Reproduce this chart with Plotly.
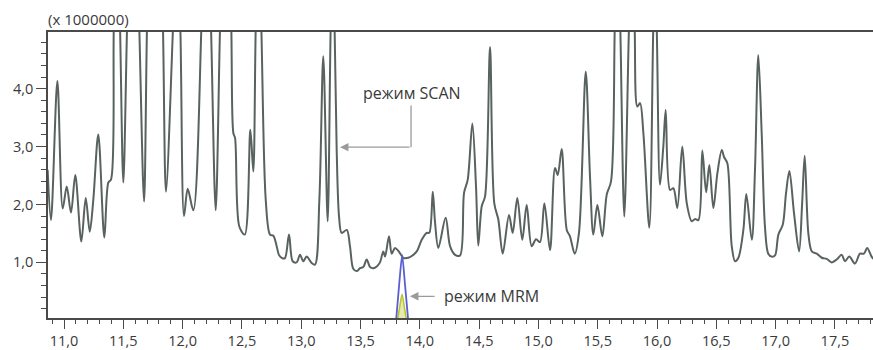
import plotly.graph_objects as go

# SCAN mode total ion chromatogram (time in min, signal x 1 000 000)
scan_time = [10.862, 10.890, 10.944, 10.989, 11.023, 11.059, 11.095, 11.146, 11.183, 11.217,
             11.247, 11.289, 11.340, 11.374, 11.396, 11.420, 11.446, 11.472, 11.500, 11.532,
             11.582, 11.634, 11.675, 11.700, 11.767, 11.834, 11.860, 11.920, 11.949, 11.980,
             12.012, 12.043, 12.090, 12.159, 12.198, 12.239, 12.279, 12.316, 12.362, 12.410,
             12.428, 12.442, 12.478, 12.524, 12.571, 12.596, 12.617, 12.640, 12.663, 12.701,
             12.737, 12.765, 12.793, 12.812, 12.835, 12.862, 12.897, 12.928, 12.961, 12.990,
             13.018, 13.046, 13.088, 13.116, 13.153, 13.186, 13.223, 13.249, 13.265, 13.281,
             13.299, 13.319, 13.341, 13.384, 13.411, 13.439, 13.468, 13.496, 13.524, 13.552,
             13.580, 13.608, 13.637, 13.664, 13.692, 13.707, 13.740, 13.763, 13.791, 13.819,
             13.861, 13.903, 13.932, 13.974, 14.016, 14.058, 14.080, 14.109, 14.128, 14.156,
             14.218, 14.255, 14.297, 14.339, 14.373, 14.404, 14.443, 14.474, 14.493, 14.522,
             14.550, 14.592, 14.628, 14.662, 14.699, 14.752, 14.783, 14.822, 14.864, 14.901,
             14.943, 14.980, 15.013, 15.050, 15.098, 15.140, 15.163, 15.196, 15.239, 15.266,
             15.306, 15.342, 15.399, 15.435, 15.463, 15.497, 15.539, 15.576, 15.612, 15.644,
             15.667, 15.690, 15.724, 15.764, 15.787, 15.811, 15.834, 15.857, 15.885, 15.935,
             15.969, 15.983, 15.997, 16.025, 16.053, 16.073, 16.110, 16.138, 16.171, 16.213,
             16.251, 16.293, 16.321, 16.349, 16.382, 16.414, 16.441, 16.475, 16.509, 16.546,
             16.565, 16.593, 16.630, 16.658, 16.686, 16.728, 16.753, 16.799, 16.826, 16.854,
             16.883, 16.910, 16.938, 16.967, 16.995, 17.023, 17.060, 17.088, 17.116, 17.155,
             17.198, 17.223, 17.245, 17.276, 17.305, 17.347, 17.389, 17.431, 17.473, 17.515,
             17.557, 17.585, 17.621, 17.669, 17.711, 17.744, 17.772, 17.809, 17.830]
scan_signal = [2.60, 1.73, 4.13, 1.93, 2.31, 1.86, 2.51, 1.36, 2.11, 1.53,
               2.08, 3.21, 1.43, 2.38, 2.43, 5.10, 7.00, 5.10, 2.38, 5.10,
               9.00, 5.10, 2.05, 5.10, 11.0, 5.10, 2.22, 5.10, 6.50, 5.10,
               1.80, 2.27, 1.90, 5.10, 8.00, 5.10, 1.90, 5.10, 8.50, 5.10,
               3.23, 3.15, 1.62, 1.48, 3.29, 2.57, 5.10, 6.50, 5.10, 2.08,
               1.48, 1.46, 1.28, 1.13, 1.08, 1.07, 1.48, 1.02, 1.00, 1.13,
               1.02, 1.10, 0.99, 0.96, 2.08, 4.56, 1.71, 5.10, 6.00, 5.10,
               2.94, 1.79, 1.51, 1.56, 1.28, 0.89, 0.85, 0.90, 0.92, 1.05,
               0.92, 0.90, 0.93, 1.00, 1.19, 1.10, 1.45, 1.15, 1.25, 1.20,
               1.08, 1.08, 1.11, 1.19, 1.39, 1.51, 1.51, 2.22, 1.70, 1.25,
               1.77, 1.28, 1.13, 1.12, 2.20, 2.43, 3.40, 2.30, 1.29, 1.97,
               2.14, 4.72, 2.02, 1.74, 1.15, 1.82, 1.51, 2.11, 1.39, 1.99,
               1.28, 1.40, 1.35, 2.02, 1.21, 2.63, 2.51, 2.96, 1.56, 1.45,
               1.15, 1.51, 4.29, 2.48, 1.48, 1.99, 1.45, 2.17, 2.40, 5.10,
               7.00, 5.10, 1.79, 5.10, 6.50, 5.10, 3.69, 3.75, 3.23, 1.60,
               5.10, 5.80, 5.10, 2.34, 3.00, 3.63, 2.25, 2.28, 1.94, 3.00,
               2.02, 1.71, 1.75, 1.73, 2.93, 2.21, 2.68, 1.94, 2.54, 2.94,
               2.82, 2.71, 1.28, 1.02, 1.08, 1.56, 2.18, 1.39, 2.60, 4.58,
               3.20, 1.62, 1.15, 1.10, 1.12, 1.48, 1.65, 2.20, 2.58, 1.85,
               1.19, 2.00, 2.84, 1.50, 1.19, 1.15, 1.08, 1.06, 1.00, 1.05,
               1.13, 1.02, 1.10, 0.98, 1.15, 1.15, 1.25, 1.10, 1.05]

# MRM mode peaks
mrm_time_blue = [13.800, 13.826, 13.851, 13.875, 13.902]
mrm_blue = [0.0, 0.62, 1.13, 0.62, 0.0]
mrm_time_yellow = [13.812, 13.832, 13.850, 13.868, 13.888]
mrm_yellow = [0.0, 0.25, 0.45, 0.25, 0.0]

label_scan = "режим SCAN"
label_mrm = "режим MRM"
label_scale = "(x 1000000)"

FONT = "Open Sans"
TXT = "#3a3a3a"
AX = "#4a4a4a"

fig = go.Figure()
fig.add_trace(go.Scatter(x=scan_time, y=scan_signal, mode="lines",
                         line=dict(color="#58635f", width=2, shape="spline", smoothing=0.9),
                         hoverinfo="skip", showlegend=False))
fig.add_trace(go.Scatter(x=mrm_time_yellow, y=mrm_yellow, mode="lines",
                         line=dict(color="#b9c430", width=1.5, shape="spline", smoothing=0.6),
                         fill="tozeroy", fillcolor="rgba(214,222,120,0.6)",
                         hoverinfo="skip", showlegend=False))
fig.add_trace(go.Scatter(x=mrm_time_blue, y=mrm_blue, mode="lines",
                         line=dict(color="#5a5fcf", width=1.8, shape="spline", smoothing=0.6),
                         hoverinfo="skip", showlegend=False))

# SCAN arrow (elbow)
fig.add_shape(type="line", xref="x", yref="y", x0=13.926, x1=13.926, y0=3.71, y1=2.99,
              line=dict(color="#9a9a9a", width=1.3))
fig.add_annotation(x=13.327, y=2.99, ax=13.926, ay=2.99, xref="x", yref="y",
                   axref="x", ayref="y", text="", showarrow=True, arrowhead=2,
                   arrowsize=1.3, arrowwidth=1.3, arrowcolor="#9a9a9a")
fig.add_annotation(x=13.93, y=3.92, xref="x", yref="y", text=label_scan, showarrow=False,
                   font=dict(family=FONT, size=16, color=TXT))
# MRM arrow
fig.add_annotation(x=13.917, y=0.414, ax=14.137, ay=0.414, xref="x", yref="y",
                   axref="x", ayref="y", text="", showarrow=True, arrowhead=2,
                   arrowsize=1.3, arrowwidth=1.3, arrowcolor="#9a9a9a")
fig.add_annotation(x=14.19, y=0.414, xref="x", yref="y", text=label_mrm, showarrow=False,
                   xanchor="left", font=dict(family=FONT, size=16, color=TXT))
fig.add_annotation(x=0, y=1, xref="paper", yref="paper", text=label_scale, showarrow=False,
                   xanchor="left", yanchor="bottom", yshift=1, xshift=-2,
                   font=dict(family=FONT, size=15, color=TXT))

fig.update_layout(
    width=873, height=350,
    margin=dict(l=48, r=0, t=32, b=32),
    plot_bgcolor="white", paper_bgcolor="white",
    separators=",.",
    font=dict(family=FONT, size=14.5, color=TXT),
    xaxis=dict(range=[10.865, 17.821], tick0=11, dtick=0.5, tickformat=".1f",
               ticks="outside", ticklen=9, tickwidth=1.2, tickcolor=AX,
               showline=True, linecolor=AX, linewidth=1.5, mirror=True,
               showgrid=False, zeroline=False,
               minor=dict(dtick=0.1, tick0=11, ticks="outside", ticklen=4,
                          tickcolor=AX, tickwidth=1, showgrid=False)),
    yaxis=dict(range=[0.04, 4.978], tick0=0, dtick=1, tickformat=".1f",
               ticks="outside", ticklen=10, tickwidth=1.2, tickcolor=AX,
               showline=True, linecolor=AX, linewidth=1.5,
               showgrid=False, zeroline=False,
               minor=dict(dtick=0.2, tick0=0, ticks="outside", ticklen=5,
                          tickcolor=AX, tickwidth=1, showgrid=False)),
)

fig.write_html(
    "out.html",
    config={"displayModeBar": False},
    post_script="document.body.style.margin='0';document.body.style.overflow='hidden';"
)
